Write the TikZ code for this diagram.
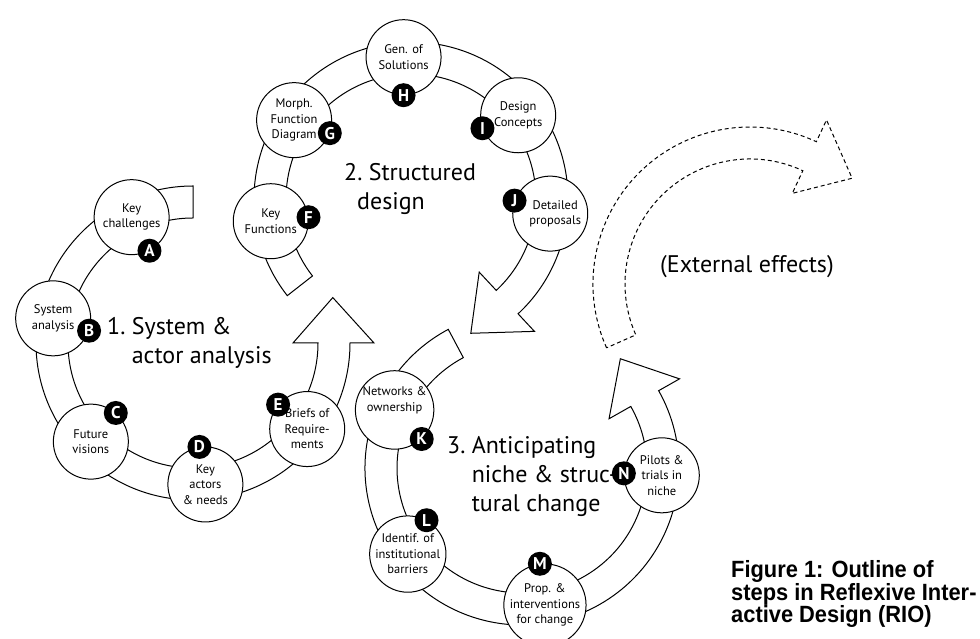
\documentclass[tikz,border=0pt]{standalone}
\usepackage{fontspec}
\setmainfont{PT Sans}
\newfontfamily\capfont[FakeStretch=0.93]{Liberation Sans}
% curved band with a flat tail and an arrow head
\newcommand{\ringarrow}[4][]{%
  \draw[band,#1] (#2:157) arc[start angle=#2, end angle=#3, radius=157]
    -- (#3:181) -- (#4:147) -- (#3:100) -- (#3:125)
    arc[start angle=#3, end angle=#2, radius=125] -- cycle;}
\begin{document}
\begin{tikzpicture}[x=1pt,y=1pt,
    band/.style={draw, fill=white, line width=1pt, line join=miter},
    stepnode/.style={circle, draw, fill=white, line width=1pt,
      minimum size=75pt, inner sep=0pt, align=center,
      font=\fontsize{12.5}{15.5}\selectfont},
    tag/.style={circle, fill=black, minimum size=24pt, inner sep=0pt,
      text=white, font=\fontsize{17}{17}\selectfont\bfseries},
    title/.style={anchor=base west, align=left, inner sep=0pt,
      font=\fontsize{24}{29}\selectfont}]
  \useasboundingbox (0,0) rectangle (980,639);
  % 1. system & actor analysis
  \begin{scope}[shift={(193,296)}]
    \ringarrow{90}{360}{378}
    \draw
      (116:140) node[stepnode] (A){Key\\challenges}
      (170:142) node[stepnode] (B){System\\analysis}
      (224:142) node[stepnode] (C){Future\\visions}
      (275:142) node[stepnode] (D){Key\\actors\\\& needs}
      (323:143) node[stepnode] (E){Briefs of\\Require-\\ments};
  \end{scope}
  % 2. structured design
  \begin{scope}[shift={(411,440)}]
    \ringarrow{218}{-47}{-66}
    \draw
      (189:142) node[stepnode] (F){Key\\Functions}
      (146:141) node[stepnode] (G){Morph.\\Function\\Diagram}
      (93:142) node[stepnode] (H){Gen. of\\Solutions}
      (38:136) node[stepnode] (I){Design\\Concepts}
      (-6:140) node[stepnode] (J){\hspace*{10pt}Detailed\\\hspace*{10pt}proposals};
  \end{scope}
  % 3. niche & structural change
  \begin{scope}[shift={(522,171)}]
    \ringarrow{118}{389.5}{408}
    \draw
      (155.5:140) node[stepnode] (K){Networks \&\\ownership\\[6pt]}
      (217:143) node[stepnode] (L){Identif. of\\institutional\\barriers}
      (279.5:139) node[stepnode] (M){Prop. \&\\interventions\\for change}
      (-3:140) node[stepnode] (N){Pilots \&\\trials in\\niche};
  \end{scope}
  % external effects
  \begin{scope}[shift={(750,355)}]
    \ringarrow[dashed, dash pattern=on 4pt off 3pt]{204}{65}{46}
  \end{scope}
  % letter tags
  \node[tag] (tA) at (A.-62) {A};
  \node[tag] (tB) at (B.-19) {B};
  \node[tag] (tC) at (C.49) {C};
  \node[tag] (tD) at (D.99) {D};
  \node[tag] (tE) at (E.140) {E};
  \node[tag] (tF) at (F.6) {F};
  \node[tag] (tG) at (G.-20) {G};
  \node[tag] (tH) at (H.-90) {H};
  \node[tag] (tI) at (I.200) {I};
  \node[tag] (tJ) at (J.160) {J};
  \node[tag] (tK) at (K.-47) {K};
  \node[tag] (tL) at (L.61) {L};
  \node[tag] (tM) at (M.97) {M};
  \node[tag] (tN) at (N.177) {N};
  % titles (base = last line)
  \node[title] (t1) at (107,275) {1.~System \&\\\hphantom{1.~}actor analysis};
  \node[title] (t2) at (344,429) {2.~Structured\\\hspace*{13pt}design};
  \node[title] (t3) at (447,127) {3.~Anticipating\\\hphantom{3.~}niche \& struc-\\\hphantom{3.~}tural change};
  \node[title] (ext) at (660,366) {(External effects)};
  \node[anchor=base west, align=left, inner sep=0pt,
    font=\capfont\bfseries\fontsize{23.5}{20.5}\selectfont] (cap) at (731,16)
    {Figure 1: Outline of\\steps in Reflexive Inter-\\active Design (RIO)};
\end{tikzpicture}
\end{document}
